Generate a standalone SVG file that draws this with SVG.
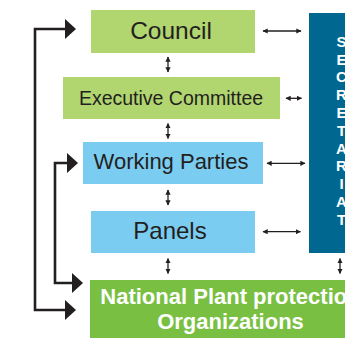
<svg xmlns="http://www.w3.org/2000/svg" width="345" height="338" viewBox="0 0 345 338">
<defs>
<style>
.lg{fill:#b1d56f}
.lb{fill:#7bccf1}
.dg{fill:#79bf42}
.sec{fill:#006890}
.t{font-family:"Liberation Sans",Arial,sans-serif;fill:#231f20;text-anchor:middle}
.w{font-family:"Liberation Sans",Arial,sans-serif;fill:#ffffff;font-weight:bold;text-anchor:middle}
.thin{stroke:#231f20;stroke-width:1.3;fill:none;marker-start:url(#ah);marker-end:url(#ah)}
.thick{stroke:#231f20;stroke-width:2.6;fill:none}
.head{fill:#231f20}
</style>
<marker id="ah" viewBox="0 0 10 10" refX="9" refY="5" markerWidth="4" markerHeight="4" orient="auto-start-reverse" markerUnits="strokeWidth">
<path d="M0,0 L10,5 L0,10 z" fill="#231f20"/>
</marker>
</defs>
<g id="council"><rect class="lg" x="91" y="10" width="164" height="43"/><text class="t" x="171" y="39" font-size="24.5">Council</text></g>
<g id="executive"><rect class="lg" x="63" y="77" width="217" height="42"/><text class="t" x="171" y="105" font-size="19.5">Executive Committee</text></g>
<g id="working"><rect class="lb" x="83" y="142" width="180" height="42"/><text class="t" x="171" y="169" font-size="22">Working Parties</text></g>
<g id="panels"><rect class="lb" x="91" y="211" width="164" height="42"/><text class="t" x="170" y="239" font-size="24">Panels</text></g>
<g id="nppo"><rect class="dg" x="90" y="280" width="290" height="58"/><text class="w" x="230.5" y="304" font-size="22">National Plant protection</text><text class="w" x="230.5" y="329" font-size="22">Organizations</text></g>
<g id="secretariat"><rect class="sec" x="309" y="13" width="40" height="240"/>
<text class="w" x="341.5" font-size="15"><tspan x="341.5" y="46.7">S</tspan><tspan x="341.5" y="64.5">E</tspan><tspan x="341.5" y="82.3">C</tspan><tspan x="341.5" y="100.1">R</tspan><tspan x="341.5" y="117.9">E</tspan><tspan x="341.5" y="135.7">T</tspan><tspan x="341.5" y="153.5">A</tspan><tspan x="341.5" y="171.3">R</tspan><tspan x="341.5" y="189.1">I</tspan><tspan x="341.5" y="206.9">A</tspan><tspan x="341.5" y="224.7">T</tspan></text></g>
<g id="connectors">
<line class="thin" x1="168" y1="57" x2="168" y2="72"/>
<line class="thin" x1="168" y1="123.5" x2="168" y2="138.5"/>
<line class="thin" x1="168" y1="190" x2="168" y2="205"/>
<line class="thin" x1="168" y1="258.5" x2="168" y2="273.5"/>
<line class="thin" x1="340" y1="258.5" x2="340" y2="273.5"/>
<line class="thin" x1="263" y1="31" x2="301" y2="31"/>
<line class="thin" x1="286" y1="98.3" x2="301.5" y2="98.3"/>
<line class="thin" x1="267" y1="163.3" x2="305" y2="163.3"/>
<line class="thin" x1="263" y1="231.7" x2="300.5" y2="231.7"/>
<polyline class="thick" points="66,29 35,29 35,310 66,310"/>
<polygon class="head" points="65,19 76,29 65,39"/>
<polygon class="head" points="65,300 76,310 65,320"/>
<polyline class="thick" points="70,163 55,163 55,283 73,283"/>
<polygon class="head" points="67,153 78,163 67,173"/>
<polygon class="head" points="72,273 83,283 72,293"/>
</g>
</svg>
